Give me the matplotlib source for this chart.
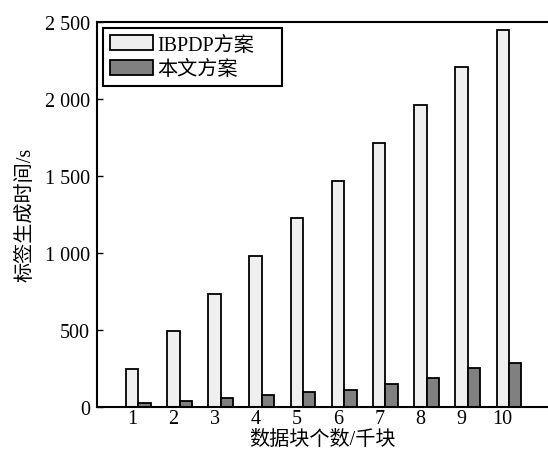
import numpy as np
import matplotlib.pyplot as plt

plt.rcParams['font.family'] = ['Liberation Serif', 'Noto Sans CJK SC']

blocks = [1, 2, 3, 4, 5, 6, 7, 8, 9, 10]
ibpdp = [245, 490, 732, 977, 1223, 1466, 1712, 1957, 2204, 2444]
ours = [22, 39, 56, 74, 93, 110, 145, 184, 249, 286]
ytick_vals = [0, 500, 1000, 1500, 2000, 2500]
ytick_labels = ['0', '500', '1 000', '1 500', '2 000', '2 500']

fs = 14.5

fig = plt.figure(figsize=(5.48, 4.56), dpi=100)
ax = fig.add_axes([0.177, 0.106, 0.823, 0.844])

x = np.array(blocks, dtype=float)
w = 0.3
ax.bar(x, ibpdp, width=w, color='#efefef', edgecolor='black', linewidth=1.3,
       label='IBPDP方案')
ax.bar(x + w, ours, width=w, color='#808080', edgecolor='black', linewidth=1.3,
       label='本文方案')

ax.set_xlim(0.146, 11.1)
ax.set_ylim(0, 2500)
ax.set_xticks(x)
ax.set_xticklabels([str(b) for b in blocks])
ax.set_yticks(ytick_vals)
ax.set_yticklabels(ytick_labels)
ax.tick_params(axis='x', length=0, labelsize=fs, pad=2)
ax.tick_params(axis='y', direction='in', length=4, width=1, labelsize=fs, pad=5)

for s in ['left', 'bottom', 'top']:
    ax.spines[s].set_linewidth(1.5)
ax.spines['right'].set_visible(False)

ax.set_xlabel('数据块个数/千块', fontsize=fs, labelpad=1)
ax.set_ylabel('标签生成时间/s', fontsize=fs, labelpad=7)

leg = ax.legend(loc='upper left', bbox_to_anchor=(0.0133, 0, 0.397, 0.984),
                mode='expand', fontsize=fs,
                fancybox=False, edgecolor='black', framealpha=1,
                handlelength=2.15, handleheight=0.8, handletextpad=0.2,
                borderpad=0.35, labelspacing=0.25, borderaxespad=0)
leg.get_frame().set_linewidth(1.5)

fig.savefig('out.png', dpi=100)
